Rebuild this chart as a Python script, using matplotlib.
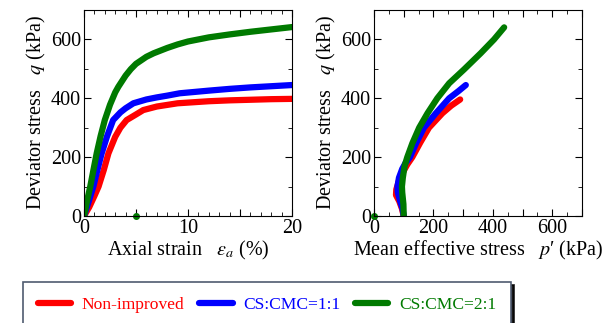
import matplotlib.pyplot as plt
from matplotlib.ticker import MultipleLocator, FuncFormatter

plt.rcParams["font.family"] = ["Liberation Serif", "DejaVu Serif"]
plt.rcParams["mathtext.fontset"] = "stix"

# stress-strain curves: axial strain (%) vs deviator stress (kPa)
strain_red = [0, 0.5, 1, 1.4, 1.9, 2.35, 3, 3.5, 4.1, 5, 5.7, 7, 9, 12, 14, 16, 18, 20]
q_red = [0, 30, 68, 100, 156, 213, 269, 300, 326, 345, 360, 372, 383, 390, 393, 395, 397, 398]
strain_blue = [0, 0.5, 0.9, 1.3, 1.7, 2.2, 2.8, 3.5, 4, 4.75, 6, 7, 8, 9.2, 12, 14, 16, 18, 20]
q_blue = [0, 55, 100, 158, 213, 269, 326, 352, 366, 383, 396, 403, 409, 417, 426, 432, 437, 441, 445]
strain_green = [0, 0.3, 0.6, 0.9, 1.22, 1.6, 2, 2.5, 3, 3.3, 4, 4.5, 5, 6, 6.7, 8, 9, 10, 12, 14, 16, 18, 20]
q_green = [0, 52, 100, 155, 213, 272, 326, 378, 420, 439, 477, 499, 517, 541, 553, 571, 583, 593, 607, 617, 626, 634, 642]

# effective stress paths: p' (kPa) vs q (kPa)
p_red = [100, 94, 85, 74, 75, 84, 98, 112, 129, 156, 185, 230, 260, 290]
qp_red = [0, 25, 50, 71, 90, 120, 150, 175, 200, 250, 300, 349, 375, 396]
p_blue = [100, 96, 88, 80, 79, 84, 95, 106, 121, 143, 168, 208, 253, 285, 309]
qp_blue = [0, 25, 50, 80, 100, 130, 160, 180, 200, 250, 300, 349, 400, 425, 445]
p_green = [100, 99, 95, 94, 97, 103, 112, 129, 152, 180, 213, 253, 303, 359, 404, 438]
qp_green = [0, 40, 80, 100, 130, 170, 200, 247, 300, 349, 400, 451, 498, 553, 600, 641]

# stray points seen in the reference
stray_strain, stray_q = [5], [0]
stray_p, stray_pq = [0], [0]

labels = ["Non-improved", "CS:CMC=1:1", "CS:CMC=2:1"]
colors = ["#ff0000", "#0000ff", "#007a00"]

fig = plt.figure(figsize=(6.12, 3.23), dpi=100)
ax1 = fig.add_axes([84 / 612, 1 - 216 / 323, 208 / 612, 206 / 323])
ax2 = fig.add_axes([374 / 612, 1 - 216 / 323, 208 / 612, 206 / 323])

lw = 4.5
for xx, qq, c, lab in zip([strain_red, strain_blue, strain_green], [q_red, q_blue, q_green], colors, labels):
    ax1.plot(xx, qq, color=c, lw=lw, solid_capstyle="round", solid_joinstyle="round", label=lab)
ax1.plot(stray_strain, stray_q, "o", color=colors[2], ms=4, clip_on=False)

for pp, qq, c in zip([p_red, p_blue, p_green], [qp_red, qp_blue, qp_green], colors):
    ax2.plot(pp, qq, color=c, lw=lw, solid_capstyle="round", solid_joinstyle="round")
ax2.plot(stray_p, stray_pq, "o", color=colors[2], ms=4, clip_on=False)

fs = 14.5
ax1.set_xlim(0, 20)
ax1.set_ylim(0, 700)
ax1.xaxis.set_major_locator(MultipleLocator(5))
ax1.xaxis.set_minor_locator(MultipleLocator(1))
ax1.xaxis.set_major_formatter(FuncFormatter(lambda v, p: "%d" % v if v % 10 == 0 else ""))
ax1.set_xlabel(r"Axial strain   $\varepsilon_a$ (%)", fontsize=fs, labelpad=1)

ax2.set_xlim(0, 700)
ax2.set_ylim(0, 700)
ax2.xaxis.set_major_locator(MultipleLocator(100))
ax2.xaxis.set_minor_locator(MultipleLocator(50))
ax2.xaxis.set_major_formatter(FuncFormatter(lambda v, p: "%d" % v if v % 200 == 0 else ""))
ax2.set_xlabel("Mean effective stress   $p$\u2032 (kPa)", fontsize=fs, labelpad=1)

for ax in (ax1, ax2):
    ax.yaxis.set_major_locator(MultipleLocator(200))
    ax.yaxis.set_minor_locator(MultipleLocator(100))
    ax.set_ylabel(r"Deviator stress   $q$ (kPa)", fontsize=fs, labelpad=2)
    ax.tick_params(which="both", direction="in", top=True, right=True, labelsize=fs, pad=2)
    ax.tick_params(which="major", length=5)
    ax.tick_params(which="minor", length=3)

leg = fig.legend(loc="upper left", bbox_to_anchor=(23 / 612, 1 - 282 / 323), borderaxespad=0,
                 ncol=3, fontsize=12.6, handlelength=1.9, columnspacing=0.85, handletextpad=0.6,
                 frameon=True, fancybox=False, shadow={"color": "black", "alpha": 0.9},
                 edgecolor="#4f5b70", borderpad=0.85)
leg.get_frame().set_linewidth(1.2)
for t, c in zip(leg.get_texts(), colors):
    t.set_color(c)

fig.savefig("out.png", dpi=100)
